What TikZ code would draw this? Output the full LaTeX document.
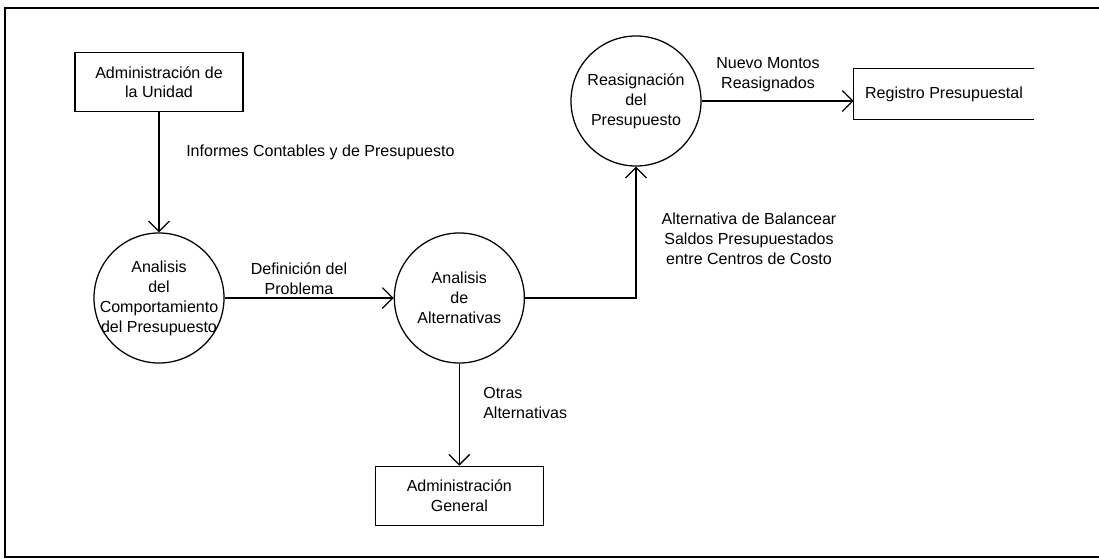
\documentclass[tikz,border=0pt]{standalone}
\usepackage{fontspec}
\setmainfont{Liberation Sans}
\usetikzlibrary{positioning,arrows.meta}
\tikzstyle{entidad} = [rectangle, minimum width=4.2cm, minimum height=1.475cm,text centered, draw=black, line width=0.9pt, align=center]
\tikzstyle{proceso} = [circle, minimum size=3.25cm, inner sep=-4pt, draw=black, line width=0.9pt, align=center]
\tikzstyle{almacen} = [rectangle, minimum width=4.5cm, minimum height=1.25cm, align=center]
\tikzstyle{etiqueta} = [align=center, inner sep=0pt]
\tikzstyle{arrow} = [line width=0.9pt,-{Straight Barb[length=2.6mm,width=5.2mm]}]

\begin{document}
\begin{tikzpicture}[x=0.025cm,y=-0.025cm,font=\fontsize{11.4}{14.2}\selectfont]
\useasboundingbox (0,0) rectangle (1099,559);
% marco
\draw[line width=1pt] (1099,8) -- (5,8) -- (5,557) -- (1099,557);

\node (proc1) [proceso] at (159,298) {Analisis\\del\\Comportamiento\\del Presupuesto};
\node (unidad) [entidad,above=3cm of proc1] {Administración de\\la Unidad};
\node (proc2) [proceso,right=4.225cm of proc1] {Analisis\\de\\Alternativas};
\node (general) [entidad,below=2.55cm of proc2] {Administración\\General};
\node (proc3) [proceso] at (636,101) {Reasignación\\del\\Presupuesto};
\node (registro) [almacen,right=3.8cm of proc3,yshift=0.175cm] {Registro Presupuestal};
\draw[line width=0.9pt] (registro.north east) -- (registro.north west) -- (registro.south west) -- (registro.south east);

% flujos
\draw [arrow] (unidad) -- (proc1);
\draw [arrow] (proc1) -- (proc2);
\draw [arrow] (proc2.east) -| (proc3.south);
\draw [arrow] (proc3.east) -- (proc3.east -| registro.west);
\draw [arrow] (proc2) -- (general);

% etiquetas
\node (lblinf) [etiqueta,anchor=west] at (186,152) {Informes Contables y de Presupuesto};
\node (lbldef) [etiqueta] at (299,279) {Definición del\\Problema};
\node (lblbal) [etiqueta] at (749,239) {Alternativa de Balancear\\Saldos Presupuestados\\entre Centros de Costo};
\node (lblmon) [etiqueta] at (768,75) {Nuevo Montos\\Reasignados};
\node (lblotr) [etiqueta,anchor=west,align=left] at (483,403) {Otras\\Alternativas};
\end{tikzpicture}
\end{document}
